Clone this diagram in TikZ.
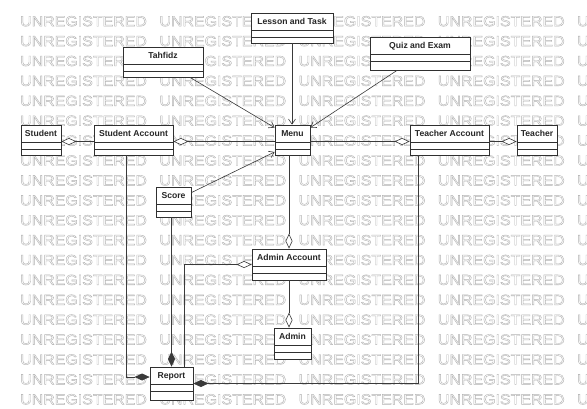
\documentclass[tikz,border=0pt]{standalone}
\usepackage{fontspec}
\setmainfont{Liberation Sans}
\usepackage{graphicx}
\usetikzlibrary{arrows.meta}

\definecolor{wmgray}{HTML}{B2B2B2}
\definecolor{linegray}{HTML}{3A3A3A}
\definecolor{boxline}{HTML}{303030}
\definecolor{labelink}{HTML}{262626}

% outlined background word (text render mode 1 = stroke only)
\newcommand\wmword{\scalebox{1.10}[1]{\special{pdf:literal direct 1 Tr 0.4 w}UNREGISTERED\special{pdf:literal direct 0 Tr}}}

\begin{document}
\begin{tikzpicture}[x=1pt,y=-1pt,
  wm/.style={anchor=base west, inner sep=0pt, text=wmgray,
    font=\fontsize{14.5}{14.5}\selectfont},
  umlclass/.style={rectangle, draw=boxline, line width=0.8pt, fill=white,
    inner sep=0pt, text height=11.5pt, text=labelink,
    font=\fontsize{8.6}{10}\selectfont\bfseries,
    path picture={
      \draw[boxline, line width=0.6pt]
        ([yshift=-17pt]path picture bounding box.north west) --
        ([yshift=-17pt]path picture bounding box.north east)
        ([yshift=-24pt]path picture bounding box.north west) --
        ([yshift=-24pt]path picture bounding box.north east);}},
  conn/.style={draw=linegray, line width=0.6pt},
  navarrow/.style={conn, -{Straight Barb[length=5pt,width=7pt]}},
  aggstart/.style={conn, {Diamond[length=15pt,width=7pt,fill=white]}-},
  aggend/.style={conn, -{Diamond[length=15pt,width=7pt,fill=white]}},
  compend/.style={conn, -{Diamond[length=15pt,width=7pt]}}
]
\useasboundingbox (0,0) rectangle (587,408);
\fill[white] (0,0) rectangle (587,408);

% background word grid
\begin{scope}
  \clip (0,0) rectangle (587,408);
  \foreach \r in {0,...,19}{
    \foreach \c in {0,...,4}{
      \node[wm] (wm-\r-\c) at ({20+139.25*\c},{26.2+19.9*\r}) {\wmword};
    }
  }
\end{scope}

% classes
\node[umlclass, minimum width=82pt, text depth=18.5pt] (lesson) at (292,28) {Lesson and Task};
\node[umlclass, minimum width=100pt, text depth=21.5pt] (quiz) at (420,53.5) {Quiz and Exam};
\node[umlclass, minimum width=80pt, text depth=18.5pt] (tahfidz) at (163,62) {Tahfidz};
\node[umlclass, minimum width=40pt, text depth=18.5pt] (student) at (41,140) {Student};
\node[umlclass, minimum width=79pt, text depth=18.5pt] (stacc) at (133.5,140) {Student Account};
\node[umlclass, minimum width=35pt, text depth=18.5pt] (menu) at (292.5,140) {Menu};
\node[umlclass, minimum width=79pt, text depth=18.5pt] (teacc) at (449.5,140) {Teacher Account};
\node[umlclass, minimum width=40pt, text depth=18.5pt] (teacher) at (537,140) {Teacher};
\node[umlclass, minimum width=35pt, text depth=18.5pt] (score) at (173.5,202) {Score};
\node[umlclass, minimum width=74pt, text depth=19.5pt] (adacc) at (289,264.5) {Admin Account};
\node[umlclass, minimum width=37pt, text depth=19.5pt] (admin) at (292.5,343.5) {Admin};
\node[umlclass, minimum width=43pt, text depth=21.5pt] (report) at (171.5,383.5) {Report};

% navigable associations into the menu
\draw[navarrow] ([xshift=27pt]tahfidz.south) -- ([yshift=-3pt]menu.north west);
\draw[navarrow] (lesson.south) -- (lesson.south |- menu.north);
\draw[navarrow] ([xshift=-23pt]quiz.south) -- ([yshift=-3pt]menu.north east);
\draw[navarrow] ([yshift=-6pt]score.north east) -- ([yshift=-12pt]menu.west);

% aggregations
\draw[aggstart] ([yshift=-1.5pt]student.east) -- ([yshift=-1.5pt]stacc.west);
\draw[aggstart] ([yshift=-1.5pt]stacc.east) -- ([yshift=-1.5pt]menu.west);
\draw[aggend] ([yshift=-1.5pt]menu.east) -- ([yshift=-1.5pt]teacc.west);
\draw[aggend] ([yshift=-1.5pt]teacc.east) -- ([yshift=-1.5pt]teacher.west);
\draw[aggend] (menu.south -| adacc.north) -- (adacc.north);
\draw[aggend] (adacc.south) -- (adacc.south |- admin.north);
\draw[aggstart] (adacc.west) -| ([xshift=12.5pt]report.north);

% compositions into the report
\draw[compend] ([xshift=-7.5pt]stacc.south) |- ([yshift=6.5pt]report.west);
\draw[compend] (score.south -| report.north) -- (report.north);
\draw[compend] ([xshift=-31.5pt]teacc.south) |- (report.east);
\end{tikzpicture}
\end{document}
